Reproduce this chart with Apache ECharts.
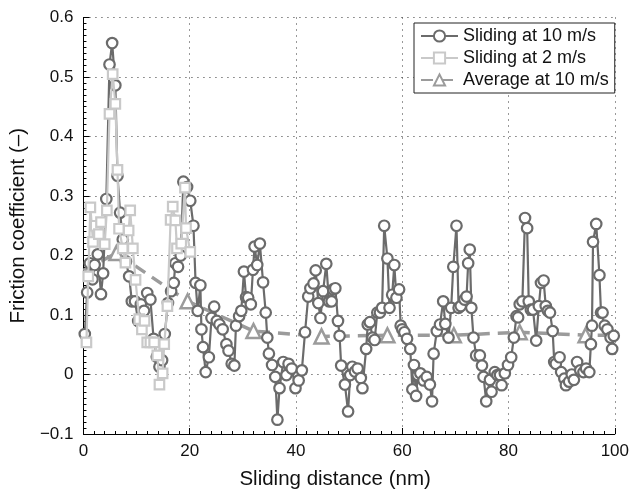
<!DOCTYPE html>
<html><head><meta charset="utf-8">
<script src="https://cdn.jsdelivr.net/npm/echarts@6/dist/echarts.min.js"></script>
<style>html,body{margin:0;padding:0;background:#fff}#c{width:632px;height:495px}</style>
</head><body><div id="c"></div>
<script>
// Sliding at 10 m/s
const x10 = [0.25,0.7,1.2,1.7,2.1,2.7,3.3,3.7,4.3,4.9,5.4,6.0,6.4,6.9,7.4,8.0,8.6,9.1,9.7,10.3,10.8,11.4,12.0,12.6,13.2,13.8,14.3,14.8,15.3,15.9,16.5,17.0,17.3,17.8,18.3,18.8,19.5,20.1,20.7,21.1,21.5,22.0,22.2,22.5,23.0,23.6,24.1,24.6,25.1,25.6,26.2,26.9,27.3,27.9,28.4,28.7,29.3,29.7,30.2,30.6,31.0,31.5,31.9,32.2,32.7,33.2,33.8,34.3,34.6,34.9,35.5,36.1,36.5,36.9,37.6,38.2,38.6,39.2,39.9,40.5,41.1,41.7,42.3,42.7,43.3,43.7,44.2,44.6,45.1,45.7,46.2,46.7,47.0,47.4,47.9,48.2,48.5,49.2,49.8,50.2,50.6,51.1,51.6,52.2,52.5,53.2,53.5,53.9,54.4,54.8,55.3,55.8,56.2,56.6,57.2,57.6,58.1,58.5,58.9,59.4,59.7,60.0,60.4,60.9,61.5,61.9,62.2,62.6,62.9,63.4,64.0,64.6,65.2,65.6,65.9,66.5,67.1,67.7,68.1,68.7,69.2,69.6,70.2,70.6,71.0,71.7,72.1,72.4,72.7,73.0,73.4,73.9,74.6,75.0,75.3,75.8,76.5,76.8,77.4,77.9,78.4,78.7,79.3,79.9,80.5,81.0,81.5,81.8,82.1,82.6,83.1,83.5,83.8,84.2,84.6,85.2,85.7,86.1,86.6,87.0,87.4,87.8,88.3,88.6,88.9,89.6,89.9,90.5,90.8,91.4,91.9,92.3,92.9,93.5,94.1,94.6,95.2,95.5,95.7,95.9,96.5,97.1,97.4,97.7,98.1,98.6,99.2,99.5,99.8];
const y10 = [0.068,0.138,0.187,0.16,0.184,0.202,0.135,0.17,0.295,0.521,0.557,0.486,0.334,0.272,0.227,0.19,0.165,0.123,0.123,0.09,0.118,0.107,0.137,0.126,0.06,0.03,0.013,0.024,0.068,0.12,0.14,0.154,0.187,0.181,0.2,0.324,0.315,0.292,0.25,0.154,0.107,0.15,0.076,0.046,0.004,0.029,0.095,0.114,0.09,0.084,0.076,0.051,0.04,0.018,0.015,0.082,0.098,0.107,0.173,0.13,0.129,0.118,0.176,0.215,0.184,0.22,0.155,0.104,0.062,0.035,0.016,-0.004,-0.076,-0.023,0.021,-0.001,0.018,0.01,-0.023,-0.01,0.007,0.071,0.131,0.145,0.153,0.175,0.12,0.095,0.14,0.186,0.123,0.123,0.143,0.145,0.09,0.065,0.015,-0.017,-0.062,-0.001,0.013,0.005,0.01,-0.006,-0.023,0.043,0.084,0.088,0.062,0.058,0.104,0.104,0.112,0.25,0.195,0.112,0.134,0.184,0.129,0.143,0.082,0.076,0.071,0.06,0.043,-0.025,0.016,-0.036,-0.001,0.002,-0.01,-0.004,-0.017,-0.045,0.035,0.073,0.084,0.123,0.085,0.062,0.112,0.181,0.25,0.112,0.115,0.126,0.131,0.187,0.21,0.112,0.062,0.032,0.032,0.015,-0.004,-0.045,-0.009,-0.029,0.004,-0.001,-0.001,-0.018,0.002,0.016,0.029,0.062,0.098,0.096,0.118,0.123,0.263,0.246,0.123,0.109,0.109,0.057,0.115,0.154,0.158,0.115,0.107,0.104,0.073,0.021,0.018,0.029,0.004,-0.007,-0.018,-0.012,0.0,-0.009,0.021,0.007,0.004,0.01,0.004,0.051,0.082,0.223,0.253,0.167,0.104,0.104,0.082,0.076,0.062,0.043,0.065];
// Sliding at 2 m/s
const x2 = [0.56,0.9,1.3,1.8,2.3,2.9,3.3,4.0,4.4,4.9,5.5,6.0,6.4,6.7,7.4,7.9,8.5,8.8,9.3,9.8,10.5,11.0,11.5,12.0,12.6,13.3,13.9,14.3,14.9,15.2,15.8,16.4,16.8,17.3,17.6,18.4,19.1,19.3,20.1];
const y2 = [0.054,0.165,0.281,0.223,0.25,0.236,0.256,0.219,0.276,0.438,0.505,0.455,0.344,0.245,0.212,0.188,0.242,0.276,0.212,0.159,0.093,0.076,0.09,0.054,0.054,0.054,0.032,-0.017,0.002,0.051,0.115,0.26,0.282,0.259,0.212,0.22,0.314,0.246,0.206];
// Average at 10 m/s
const xAvg = [0,6.2,19.6,32.0,44.8,57.2,69.7,82.1,94.5,100];
const yAvg = [0.175,0.204,0.123,0.073,0.064,0.066,0.066,0.071,0.066,0.066];
const avgMarker = [false,true,true,true,true,true,true,true,true,false];
const xTickLabels = [0,20,40,60,80,100];
const yTickLabels = [-0.1,0,0.1,0.2,0.3,0.4,0.5,0.6];

const names = ['Sliding at 10 m/s','Sliding at 2 m/s','Average at 10 m/s'];
const c10 = '#6b6b6b', c2 = '#c9c9c9', cA = '#9b9b9b';
const font = 'Liberation Sans, Arial, Helvetica, sans-serif';

const chart = echarts.init(document.getElementById('c'), null, {renderer:'canvas'});
const axisCommon = {
  axisLine:{show:true, onZero:false, lineStyle:{color:'#000', width:1}},
  axisTick:{show:true, inside:true, length:6, lineStyle:{color:'#000'}},
  minorTick:{show:true, splitNumber:10, length:3, lineStyle:{color:'#000'}},
  splitLine:{show:true, lineStyle:{color:'#333', width:1, type:[1,5]}},
  axisLabel:{color:'#111', fontSize:17, fontFamily:font},
  nameTextStyle:{color:'#111', fontSize:20.5, fontFamily:font}
};
chart.setOption({
  animation:false,
  backgroundColor:'#fff',
  grid:{left:82, top:17.5, right:13.5, bottom:55.5, containLabel:false},
  legend:{
    data:names, orient:'vertical', left:414, top:23,
    backgroundColor:'#fff', borderColor:'#222', borderWidth:1, borderRadius:0,
    padding:[4,6,4,6], itemWidth:37, itemHeight:14, itemGap:4,
    textStyle:{color:'#111', fontSize:18, fontFamily:font, lineHeight:18}
  },
  xAxis:Object.assign({}, axisCommon, {
    type:'value', min:xTickLabels[0], max:xTickLabels[xTickLabels.length-1], interval:20,
    name:'Sliding distance (nm)', nameLocation:'middle', nameGap:35,
    nameTextStyle:Object.assign({}, axisCommon.nameTextStyle, {padding:[0,28,0,0]}),
    axisLabel:Object.assign({}, axisCommon.axisLabel, {margin:9})
  }),
  yAxis:Object.assign({}, axisCommon, {
    type:'value', min:yTickLabels[0], max:yTickLabels[yTickLabels.length-1], interval:0.1,
    name:'Friction coefficient (\u2013)', nameLocation:'middle', nameGap:36,
    axisLabel:Object.assign({}, axisCommon.axisLabel, {margin:10,
      formatter:v=>{const r=Math.round(v*10)/10; return r<0?'\u2212'+Math.abs(r):String(r);}})
  }),
  series:[
    {name:names[2], type:'line', z:2,
     data:xAvg.map((x,i)=>avgMarker[i]?[x,yAvg[i]]:{value:[x,yAvg[i]], symbol:'none'}),
     symbol:'triangle', symbolSize:14,
     itemStyle:{color:'#fff', borderColor:cA, borderWidth:2.5},
     lineStyle:{color:cA, width:3.5, type:[12,8]}},
    {name:names[0], type:'line', z:3,
     data:x10.map((x,i)=>[x,y10[i]]),
     symbol:'circle', symbolSize:10.5,
     itemStyle:{color:'#fff', borderColor:c10, borderWidth:2.2},
     lineStyle:{color:c10, width:2.2}},
    {name:names[1], type:'line', z:4,
     data:x2.map((x,i)=>[x,y2[i]]),
     symbol:'rect', symbolSize:9.5,
     itemStyle:{color:'#fff', borderColor:c2, borderWidth:2.2},
     lineStyle:{color:c2, width:2.2}}
  ]
});
</script></body></html>
